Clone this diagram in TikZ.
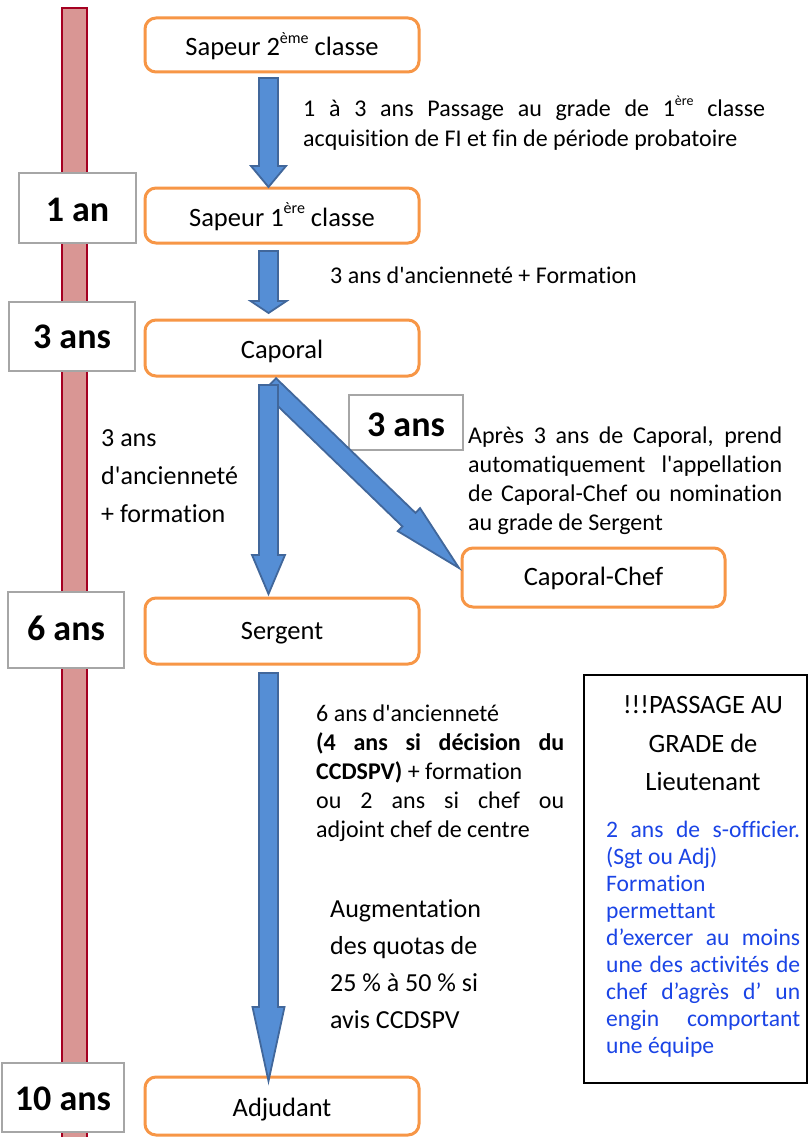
\documentclass[tikz,border=0pt]{standalone}
\usepackage{fontspec}
\setmainfont{Carlito}[Ligatures={TeXOff,CommonOff}]
\usetikzlibrary{calc}
\definecolor{orangeB}{HTML}{F79646}
\definecolor{grayB}{HTML}{A6A6A6}
\definecolor{barF}{HTML}{D99694}
\definecolor{barD}{HTML}{A50021}
\definecolor{blueF}{HTML}{558ED5}
\definecolor{blueD}{HTML}{41679B}
\definecolor{blueT}{HTML}{1A44E6}
\newcommand\expo[2]{\raisebox{0.48em}{\fontsize{#1}{#1}\selectfont #2}}
\newcommand\blockarrow[5]{%
  \coordinate (bah) at ($(#2)!#5!(#1)$);
  \filldraw[blk] ($(#1)!#3!90:(#2)$) -- ($(bah)!#3!90:(#2)$) -- ($(bah)!#4!90:(#2)$) -- (#2)
    -- ($(bah)!#4!-90:(#2)$) -- ($(bah)!#3!-90:(#2)$) -- ($(#1)!#3!-90:(#2)$) -- cycle;}
\begin{document}
\begin{tikzpicture}[x=1pt,y=-1pt,
  obox/.style={draw=orangeB, line width=3pt, rounded corners=11pt, fill=white, inner sep=0pt,
    font=\fontsize{26.5}{30}\selectfont, text depth=0pt},
  ybox/.style={draw=grayB, line width=2.6pt, fill=white, inner sep=0pt,
    font=\bfseries\fontsize{36}{40}\selectfont, text depth=0pt},
  blk/.style={fill=blueF, draw=blueD, line width=1.8pt, line join=miter},
  txt/.style={inner sep=0pt, anchor=base west, font=\fontsize{24}{29}\selectfont},
  txtl/.style={inner sep=0pt, anchor=base west, font=\fontsize{26}{30}\selectfont},
  head/.style={inner sep=0pt, anchor=base, font=\fontsize{26.5}{30}\selectfont},
  bluet/.style={inner sep=0pt, anchor=base west, text=blueT, font=\fontsize{23.6}{27}\selectfont}]
\useasboundingbox (0,0) rectangle (809,1137);
\fill[white] (0,0) rectangle (809,1137);
% timeline bar
\path[draw=barD, fill=barF, line width=2pt] (62,8) rectangle (87,1150);
% year boxes
\node[ybox, minimum width=117pt, minimum height=70pt, text height=27.4pt] (y1) at (77.5,208) {1 an};
\node[ybox, minimum width=126pt, minimum height=69pt, text height=23.6pt] (y3) at (72,336.5) {3 ans};
\node[ybox, minimum width=116pt, minimum height=76pt, text height=21pt] (y6) at (66,630) {6 ans};
\node[ybox, minimum width=122pt, minimum height=69pt, text height=25pt] (y10) at (63,1097.5) {10 ans};
\node[ybox, minimum width=114pt, minimum height=55pt, text height=27pt] (ym) at (406,422.5) {3 ans};
% grade boxes
\node[obox, minimum width=274pt, minimum height=54pt, text height=22pt] (s2) at (282,45) {Sapeur 2\expo{16}{ème} classe};
\node[obox, minimum width=274pt, minimum height=55pt, text height=22.4pt] (s1) at (282,215.5) {Sapeur 1\expo{16}{ère} classe};
\node[obox, minimum width=274pt, minimum height=56pt, text height=20.6pt] (cap) at (282,348) {Caporal};
\node[obox, minimum width=274pt, minimum height=66pt, text height=16.5pt] (serg) at (282,631) {Sergent};
\node[obox, minimum width=263pt, minimum height=59pt, text height=15pt] (cc) at (593.5,577.5) {Caporal-Chef};
\node[obox, minimum width=274pt, minimum height=58pt, text height=21.4pt] (adj) at (282,1106) {Adjudant};
% arrow end points
\coordinate (a1s) at (268.5,78);   \coordinate (a1e) at (268.5,187);
\coordinate (a2s) at (268.5,251);  \coordinate (a2e) at (268.5,313);
\coordinate (a3s) at (269.5,385);  \coordinate (a3e) at (459,568);
\coordinate (a4s) at (268.5,385);  \coordinate (a4e) at (268.5,594);
\coordinate (a5s) at (268.5,673);  \coordinate (a5e) at (268.5,1081);
\blockarrow{a1s}{a1e}{9.5pt}{17.5pt}{21pt}
\blockarrow{a2s}{a2e}{9.5pt}{18pt}{12pt}
\blockarrow{a3s}{a3e}{9.4pt}{16pt}{69.6pt}
\blockarrow{a4s}{a4e}{9.5pt}{16.5pt}{39pt}
\blockarrow{a5s}{a5e}{9.5pt}{16pt}{74pt}
% texts
\node[txt] (t1a) at (303,116.7) {\hbox to 462pt{1 à 3 ans Passage au grade de 1\expo{14}{ère} classe}};
\node[txt] (t1b) at (303,146.7) {acquisition de FI et fin de période probatoire};
\node[txt] (t2) at (330,283) {3 ans d'ancienneté + Formation};
\node[txtl] (t3a) at (101,446.7) {3 ans};
\node[txtl] (t3b) at (101,484.5) {d'ancienneté};
\node[txtl] (t3c) at (101,522) {+ formation};
\node[txt] (t4a) at (468,443.5) {\hbox to 314pt{Après 3 ans de Caporal, prend}};
\node[txt] (t4b) at (468,472.5) {\hbox to 314pt{automatiquement l'appellation}};
\node[txt] (t4c) at (468,501.5) {\hbox to 314pt{de Caporal-Chef ou nomination}};
\node[txt] (t4d) at (468,530) {au grade de Sergent};
\node[txt] (t5a) at (316,721) {6 ans d'ancienneté};
\node[txt] (t5b) at (316,750) {\hbox to 248pt{\bfseries (4 ans si décision du}};
\node[txt] (t5c) at (316,779) {\textbf{CCDSPV)} + formation};
\node[txt] (t5d) at (316,808) {\hbox to 248pt{ou 2 ans si chef ou}};
\node[txt] (t5e) at (316,837) {adjoint chef de centre};
\node[txtl] (t6a) at (330,917) {Augmentation};
\node[txtl] (t6b) at (330,954) {des quotas de};
\node[txtl] (t6c) at (330,991) {25 \% à 50 \% si};
\node[txtl] (t6d) at (330,1028) {avis CCDSPV};
% lieutenant box
\node[draw=black, line width=2pt, fill=white, minimum width=223pt, minimum height=408pt, inner sep=0pt] (lt) at (695.5,879) {};
\node[head] (h1) at (703,713) {!!!PASSAGE AU};
\node[head] (h2) at (703,752) {GRADE de};
\node[head] (h3) at (703,790.5) {Lieutenant};
\node[bluet] (b1) at (606,837) {\hbox to 194pt{2 ans de s-officier.}};
\node[bluet] (b2) at (606,864) {(Sgt ou Adj)};
\node[bluet] (b3) at (606,891) {Formation};
\node[bluet] (b4) at (606,918) {permettant};
\node[bluet] (b5) at (606,945) {\hbox to 194pt{d’exercer au moins}};
\node[bluet] (b6) at (606,972) {\hbox to 194pt{une des activités de}};
\node[bluet] (b7) at (606,999) {\hbox to 194pt{chef d’agrès d’ un}};
\node[bluet] (b8) at (606,1026) {\hbox to 194pt{engin comportant}};
\node[bluet] (b9) at (606,1053) {une équipe};
\end{tikzpicture}
\end{document}
